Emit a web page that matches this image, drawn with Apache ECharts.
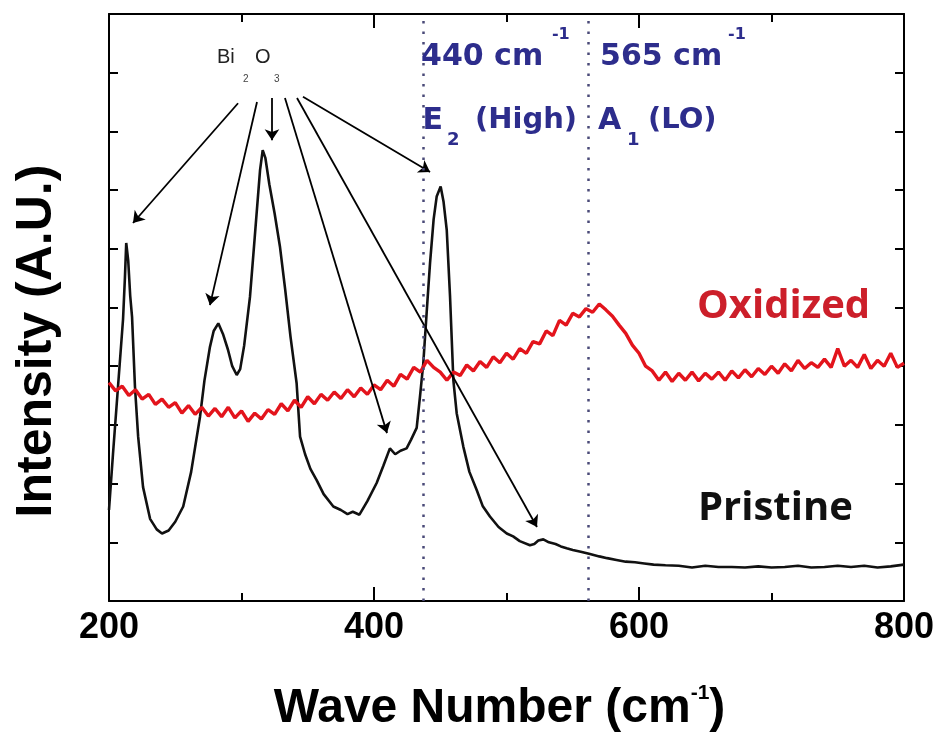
<!DOCTYPE html>
<html><head><meta charset="utf-8">
<script src="https://cdn.jsdelivr.net/npm/echarts@6/dist/echarts.min.js"></script>
<style>html,body{margin:0;padding:0;background:#fff}#c{width:940px;height:736px}</style>
</head><body><div id="c"></div>
<script>
// Wave number (cm^-1) vs intensity (a.u.)
const pristineData = [
 [200,1.55],[203,2.5],[206.8,3.65],[210.6,4.8],[212,5.5],[213,6.1],[214.5,5.8],[216,5.2],[217.4,4.84],[219.6,3.65],
 [222,2.8],[225.7,1.94],[231,1.4],[236,1.22],[240,1.15],[245,1.2],[250,1.35],[256,1.61],[262,2.2],[268.7,3.14],
 [272,3.75],[276.2,4.33],[279,4.6],[282.5,4.73],[286,4.55],[289.8,4.28],[293,4.0],[296.4,3.85],[299,3.95],[302,4.35],
 [306.4,5.18],[310,6.2],[314,7.34],[316,7.68],[318,7.55],[321,7.1],[325,6.6],[329,6.04],[333,5.3],[337,4.5],
 [341.6,3.71],[344.2,2.8],[348,2.5],[352,2.25],[356.7,2.06],[362,1.82],[369.3,1.61],[375,1.55],[380,1.48],[384,1.52],
 [389,1.47],[395,1.7],[402,2.01],[407,2.3],[412,2.6],[416,2.5],[420,2.56],[424.6,2.6],[428,2.75],[432.2,2.95],
 [434.7,3.48],[437.2,4.05],[440,5.0],[442.3,5.76],[445,6.5],[447.3,6.89],[450.3,7.06],[452.5,6.8],[454.9,6.32],[457.4,5.18],
 [459.9,3.76],[462.4,3.2],[467.4,2.63],[472,2.2],[477.5,1.89],[482,1.62],[487.5,1.44],[494,1.26],[500.2,1.15],[505,1.1],
 [510,1.02],[517.7,0.95],[521,0.97],[524,1.03],[527.8,1.05],[532,1.0],[537,0.97],[541,0.93],[545.4,0.9],[550,0.87],
 [556,0.84],[563,0.8],[570,0.76],[576,0.73],[583,0.7],[590,0.67],[597,0.66],[604,0.64],[611,0.62],[620,0.61],
 [630,0.6],[640,0.57],[650,0.6],[660,0.58],[670,0.58],[680,0.57],[690,0.59],[700,0.57],[710,0.58],[720,0.6],
 [730,0.57],[740,0.58],[750,0.6],[760,0.58],[770,0.6],[780,0.57],[790,0.59],[800,0.62]
];
const oxidizedData = [
 [200,3.72],[205,3.58],[210,3.66],[215,3.5],[220,3.6],[225,3.44],[230,3.52],[235,3.35],[240,3.44],[245,3.3],
 [250,3.38],[255,3.2],[260,3.33],[265,3.18],[270,3.3],[275,3.15],[280,3.28],[285,3.14],[290,3.3],[295,3.12],
 [300,3.24],[305,3.06],[310,3.2],[315,3.1],[320,3.26],[325,3.18],[330,3.36],[335,3.24],[340,3.42],[345,3.3],
 [350,3.48],[355,3.36],[360,3.52],[365,3.42],[370,3.56],[375,3.45],[380,3.6],[385,3.48],[390,3.63],[395,3.52],
 [400,3.68],[405,3.6],[410,3.76],[415,3.66],[420,3.86],[425,3.78],[430,3.98],[435,3.9],[440,4.1],[445,3.98],
 [450,3.9],[455,3.76],[460,3.9],[465,3.84],[470,4.02],[475,3.92],[480,4.08],[485,3.98],[490,4.16],[495,4.06],
 [500,4.22],[505,4.12],[510,4.3],[515,4.22],[520,4.42],[525,4.38],[530,4.6],[535,4.52],[540,4.78],[545,4.7],
 [550,4.9],[555,4.84],[560,4.98],[565,4.92],[570,5.06],[575,4.96],[580,4.85],[585,4.7],[590,4.56],[595,4.36],
 [600,4.22],[605,4.0],[610,3.92],[615,3.76],[620,3.9],[625,3.74],[630,3.88],[635,3.76],[640,3.9],[645,3.75],
 [650,3.88],[655,3.78],[660,3.9],[665,3.76],[670,3.92],[675,3.8],[680,3.94],[685,3.82],[690,3.96],[695,3.86],
 [700,4.0],[705,3.88],[710,4.04],[715,3.92],[720,4.1],[725,3.96],[730,4.06],[735,3.98],[740,4.12],[745,3.98],
 [750,4.3],[755,4.0],[760,4.1],[765,3.98],[770,4.2],[775,3.96],[780,4.1],[785,4.0],[790,4.22],[795,3.98],[800,4.05]
];
const xTickLabels = [200, 400, 600, 800];
const modeLines = [437, 562];
const arrowFrom = [[297.4,8.48],[311.7,8.50],[323.0,8.57],[332.8,8.57],[341.9,8.57],[346.4,8.59]];
const arrowTo   = [[218.1,6.44],[276.2,5.04],[323.0,7.85],[409.8,2.86],[523.0,1.26],[442.3,7.31]];

const BLUE = '#2d2d8c';
const annotations = [
  {t:'440 cm', at:[435.5,9.26], c:BLUE, f:'DejaVu Sans', s:30, w:'bold'},
  {t:'-1', at:[534.3,9.64], c:BLUE, f:'DejaVu Sans', s:16, w:'bold'},
  {t:'565 cm', at:[570.6,9.26], c:BLUE, f:'DejaVu Sans', s:30, w:'bold'},
  {t:'-1', at:[667.2,9.64], c:BLUE, f:'DejaVu Sans', s:16, w:'bold'},
  {t:'E', at:[436.6,8.17], c:BLUE, f:'DejaVu Sans', s:30, w:'bold'},
  {t:'2', at:[455.1,7.85], c:BLUE, f:'DejaVu Sans', s:18, w:'bold'},
  {t:'(High)', at:[476.2,8.18], c:BLUE, f:'DejaVu Sans', s:29, w:'bold'},
  {t:'A', at:[569.1,8.17], c:BLUE, f:'DejaVu Sans', s:30, w:'bold'},
  {t:'1', at:[590.9,7.85], c:BLUE, f:'DejaVu Sans', s:18, w:'bold'},
  {t:'(LO)', at:[606.8,8.18], c:BLUE, f:'DejaVu Sans', s:29, w:'bold'},
  {t:'Bi', at:[281.5,9.26], c:'#222', f:'Liberation Sans', s:20, w:'normal'},
  {t:'O', at:[310.2,9.26], c:'#222', f:'Liberation Sans', s:20, w:'normal'},
  {t:'2', at:[301.1,8.88], c:'#444', f:'Liberation Sans', s:10, w:'normal'},
  {t:'3', at:[324.5,8.88], c:'#444', f:'Liberation Sans', s:10, w:'normal'},
  {t:'Oxidized', at:[643.8,5.01], c:'#cc1f2a', f:'Open Sans', s:40, w:'bold'},
  {t:'Pristine', at:[644.5,1.58], c:'#111', f:'Open Sans', s:40, w:'bold'}
];

const chart = echarts.init(document.getElementById('c'));
const axisLineStyle = {color:'#000', width:2};
const baseX = {
  type:'value', min:200, max:800, interval:200,
  axisLine:{show:true, onZero:false, lineStyle:axisLineStyle},
  axisTick:{show:true, inside:true, length:14, lineStyle:{color:'#000', width:2}},
  minorTick:{show:true, splitNumber:2, length:8, lineStyle:{color:'#000', width:2}},
  splitLine:{show:false}, minorSplitLine:{show:false}
};
const baseY = {
  type:'value', min:0, max:10, interval:1,
  axisLine:{show:true, onZero:false, lineStyle:axisLineStyle},
  axisTick:{show:true, inside:true, length:9, lineStyle:{color:'#000', width:2}},
  axisLabel:{show:false}, splitLine:{show:false}
};
chart.setOption({
  animation:false,
  backgroundColor:'#fff',
  grid:{left:109, right:36, top:14, bottom:135, outerBoundsMode:'none', containLabel:false},
  xAxis:[
    Object.assign({}, baseX, {
      position:'bottom',
      axisLabel:{show:true, fontFamily:'Liberation Sans', fontWeight:'bold', fontSize:36, color:'#000', margin:9,
        formatter: v => xTickLabels.indexOf(v) >= 0 ? String(v) : ''},
      name:'{a|Wave Number (cm}{s|-1}{a|)}', nameLocation:'middle', nameGap:82,
      nameTextStyle:{padding:[0,14,0,0], rich:{
        a:{fontFamily:'Liberation Sans', fontWeight:'bold', fontSize:48, color:'#000', lineHeight:50, verticalAlign:'bottom'},
        s:{fontFamily:'Liberation Sans', fontWeight:'bold', fontSize:21, color:'#000', lineHeight:21, verticalAlign:'top', padding:[0,0,31,0]}
      }}
    }),
    Object.assign({}, baseX, {position:'top', axisLabel:{show:false}})
  ],
  yAxis:[
    Object.assign({}, baseY, {position:'left'}),
    Object.assign({}, baseY, {position:'right'})
  ],
  graphic:[{
    type:'text', x:37, y:341, rotation:Math.PI/2,
    style:{text:'Intensity (A.U.)', fontFamily:'Liberation Sans', fontWeight:'bold', fontSize:50, fill:'#000',
      align:'center', verticalAlign:'middle'}
  }],
  series:[
    {
      name:'Pristine', type:'line', data:pristineData, showSymbol:false, symbol:'none',
      lineStyle:{color:'#111', width:2.6}, z:2,
      markLine:{
        silent:true, symbol:['none','arrow'], symbolSize:11, animation:false,
        label:{show:false}, lineStyle:{color:'#000', width:1.8, type:'solid'},
        data: arrowFrom.map((p,i) => [{coord:p}, {coord:arrowTo[i]}])
      },
      markPoint:{
        silent:true, animation:false,
        data: annotations.map(a => ({
          coord:a.at, symbol:'circle', symbolSize:1, itemStyle:{color:'rgba(0,0,0,0)'},
          label:{show:true, position:'inside', align:'left', verticalAlign:'middle', formatter:a.t,
            color:a.c, fontFamily:a.f, fontSize:a.s, fontWeight:a.w}
        }))
      }
    },
    {
      name:'Oxidized', type:'line', data:oxidizedData, showSymbol:false, symbol:'none',
      lineStyle:{color:'#e3141c', width:3.4}, z:3,
      markLine:{
        silent:true, symbol:['none','none'], animation:false, label:{show:false},
        lineStyle:{color:'#4a4a78', width:2.5, type:[2.5,8]},
        data: modeLines.map(v => ({xAxis:v}))
      }
    }
  ]
});
</script></body></html>
